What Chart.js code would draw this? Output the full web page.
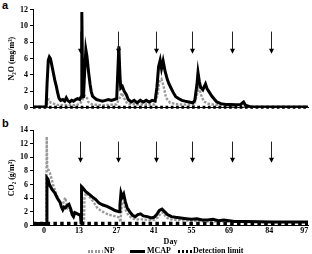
<!DOCTYPE html>
<html>
<head>
<meta charset="utf-8">
<script src="https://cdn.jsdelivr.net/npm/chart.js@4.4.1/dist/chart.umd.min.js"></script>
<style>
body { margin: 0; width: 312px; height: 254px; overflow: hidden; background: #fff; position: relative; font-family: "Liberation Serif", serif; }
canvas { position: absolute; left: 0; }
#n2o_chart { top: 0; }
#co2_chart { top: 118px; }
.panel { position: absolute; left: 2px; font-family: "Liberation Sans", sans-serif; font-weight: bold; font-size: 11px; line-height: 11px; }
.item { position: absolute; top: 246px; font-weight: bold; font-size: 8px; line-height: 10px; white-space: nowrap; }
.sample { position: absolute; top: 4px; height: 3px; width: 15px; }
</style>
</head>
<body>
<div class="panel" style="top:0px">a</div>
<div class="panel" style="top:118px">b</div>
<canvas id="n2o_chart" width="312" height="118"></canvas>
<canvas id="co2_chart" width="312" height="136"></canvas>
<div class="item" style="left:88px"><span class="sample" style="left:0;background:repeating-linear-gradient(90deg,#999 0 2px,transparent 2px 3.5px)"></span><span style="margin-left:16px">NP</span></div>
<div class="item" style="left:130px"><span class="sample" style="left:0;background:#000"></span><span style="margin-left:17px">MCAP</span></div>
<div class="item" style="left:178px"><span class="sample" style="left:0;width:14px;background:repeating-linear-gradient(90deg,#000 0 2.5px,transparent 2.5px 4px)"></span><span style="margin-left:15px">Detection limit</span></div>
<script>
// x range of both panels (days)
let day_min = -4.1
let day_max = 98.4
let day_ticks = [0, 13, 27, 41, 55, 69, 84, 97]
let arrow_days = [13.6, 27.7, 41.8, 55.1, 69.9, 84.7]

// N2O (mg/m3)
let n2o_mcap_days = [-4, 0.8, 1.15, 1.6, 2.0, 2.4, 2.9, 3.4, 4.0, 4.6, 5.1, 5.6, 6.2, 7.0, 7.7, 8.3, 8.8, 9.6, 10.3, 11.0, 11.8, 12.5, 13.3, 13.8, 14.1, 14.4, 14.7, 15.1, 15.6, 16.0, 16.7, 17.2, 17.6, 18.1, 18.8, 19.6, 20.7, 21.8, 22.9, 24.0, 25.1, 26.2, 27.1, 27.9, 28.3, 28.6, 29.2, 29.9, 30.7, 31.4, 32.5, 33.6, 34.7, 35.9, 37.0, 38.1, 39.2, 40.3, 41.4, 42.1, 42.7, 43.3, 43.8, 44.4, 45.1, 46.0, 46.6, 47.2, 48.1, 49.1, 50.3, 51.4, 52.5, 54.0, 55.5, 56.2, 57.0, 57.4, 57.9, 58.4, 59.2, 60.2, 60.8, 61.6, 62.6, 63.6, 64.4, 65.9, 67.7, 69.6, 71.4, 73.3, 74.4, 75.1, 77.0, 98.4]
let n2o_mcap = [0.1, 0.1, 3.0, 5.8, 6.2, 6.0, 5.2, 4.4, 3.4, 2.6, 1.8, 1.15, 0.9, 1.0, 0.8, 1.2, 0.9, 0.7, 0.9, 0.8, 1.0, 1.1, 1.0, 1.3, 11.7, 3.0, 1.2, 4.0, 7.1, 6.3, 4.1, 2.8, 2.0, 1.4, 1.2, 1.0, 0.9, 0.8, 0.9, 1.0, 0.9, 1.0, 1.1, 7.5, 4.0, 2.4, 2.6, 2.0, 1.6, 1.0, 0.7, 0.9, 0.6, 0.9, 0.7, 0.9, 0.7, 0.9, 0.8, 2.5, 5.0, 5.8, 4.8, 5.7, 4.5, 3.4, 2.9, 2.5, 1.9, 1.35, 1.1, 0.9, 0.8, 0.7, 0.6, 0.9, 2.8, 4.3, 3.2, 2.5, 2.2, 2.9, 2.3, 1.9, 1.4, 1.0, 0.7, 0.5, 0.4, 0.4, 0.35, 0.4, 0.7, 0.3, 0.1, 0.1]
let n2o_np_days = [-4, 1.0, 1.3, 1.8, 2.5, 3.5, 5.0, 8.0, 12.0, 13.5, 14.4, 15.2, 15.8, 16.5, 18.0, 22.0, 27.0, 28.2, 29.0, 29.8, 31.0, 35.0, 41.0, 42.3, 43.0, 43.8, 44.6, 45.5, 47.0, 50.0, 56.0, 57.2, 57.8, 58.5, 59.5, 61.0, 65.0, 70.0, 75.0, 80.0, 98.4]
let n2o_np = [0.05, 0.05, 0.9, 1.0, 0.6, 0.5, 0.35, 0.3, 0.3, 0.5, 1.0, 1.5, 1.4, 0.7, 0.4, 0.3, 0.4, 1.2, 1.8, 1.2, 0.5, 0.4, 0.4, 1.5, 3.2, 3.5, 2.6, 1.2, 0.6, 0.4, 0.35, 1.8, 2.5, 1.6, 0.8, 0.5, 0.3, 0.2, 0.15, 0.05, 0.05]
let n2o_limit = 0.05

// CO2 (g/m3)
let co2_mcap_days = [-4, 0.9, 1.1, 1.5, 2.0, 3.0, 4.0, 5.0, 6.0, 6.5, 7.0, 7.5, 8.0, 8.5, 9.3, 10.0, 10.5, 11.0, 11.5, 12.5, 13.6, 13.8, 14.0, 14.5, 15.5, 16.8, 18.0, 19.3, 20.5, 22.0, 23.5, 25.0, 26.5, 28.0, 28.3, 28.7, 29.2, 29.7, 30.3, 31.0, 32.0, 33.0, 34.0, 35.0, 36.0, 37.0, 38.5, 40.0, 41.0, 42.0, 43.0, 44.0, 45.0, 46.0, 47.5, 49.0, 51.0, 53.0, 55.0, 57.0, 59.0, 61.0, 63.0, 65.0, 67.0, 69.0, 71.0, 75.0, 80.0, 85.0, 90.0, 98.4]
let co2_mcap = [0.3, 0.3, 7.0, 6.8, 6.0, 5.3, 4.8, 4.0, 3.4, 2.7, 2.3, 2.7, 2.6, 2.9, 3.1, 2.4, 1.6, 1.3, 1.9, 1.7, 1.5, 0.4, 5.7, 5.5, 5.0, 4.6, 4.2, 3.8, 3.3, 3.0, 2.8, 2.5, 2.2, 2.0, 3.0, 4.8, 4.2, 4.6, 3.5, 2.6, 2.0, 1.5, 1.3, 1.6, 1.7, 1.4, 1.3, 1.1, 1.2, 1.6, 2.2, 2.4, 2.0, 1.6, 1.3, 1.2, 1.1, 1.0, 0.9, 1.0, 0.8, 0.8, 0.9, 0.7, 0.8, 0.7, 0.6, 0.6, 0.55, 0.5, 0.5, 0.5]
let co2_np_days = [-4, 0.9, 1.0, 1.2, 1.6, 2.2, 3.4, 4.6, 5.8, 7.0, 7.9, 8.9, 10.2, 12.0, 13.3, 13.9, 14.1, 14.9, 15.1, 15.8, 17.0, 18.5, 20.0, 22.0, 24.0, 26.0, 28.0, 28.5, 29.0, 29.6, 30.5, 31.5, 33.0, 35.0, 37.0, 39.0, 41.0, 42.5, 43.5, 44.5, 45.5, 47.0, 50.0, 55.0, 60.0, 70.0, 80.0, 98.4]
let co2_np = [0.3, 0.3, 13.0, 8.5, 8.2, 7.7, 6.0, 4.6, 3.4, 3.1, 4.1, 2.4, 2.05, 1.7, 1.6, 1.6, 0.3, 0.3, 4.2, 4.8, 4.2, 3.4, 2.5, 2.0, 1.6, 1.4, 1.2, 0.5, 3.0, 3.5, 2.2, 1.5, 1.0, 0.9, 0.9, 0.8, 0.8, 1.2, 1.8, 1.9, 1.2, 0.9, 0.8, 0.7, 0.6, 0.55, 0.5, 0.5]
let co2_limit = 0.3

function points(days, values) {
    return days.map((d, i) => ({x: d, y: values[i]}))
}

// downward arrows marking the applications
let arrowPlugin = {
    id: "arrows",
    afterDatasetsDraw(chart, args, opts) {
        let ctx = chart.ctx
        let x = chart.scales.x
        let y = chart.scales.y
        ctx.save()
        ctx.strokeStyle = "#222"
        ctx.fillStyle = "#000"
        ctx.lineWidth = 1
        for (let i = 0; i < opts.days.length; i++) {
            let px = Math.round(x.getPixelForValue(opts.days[i])) + 0.5
            let y1 = y.getPixelForValue(opts.top)
            let y2 = y.getPixelForValue(opts.tip)
            ctx.beginPath()
            ctx.moveTo(px, y1)
            ctx.lineTo(px, y2 - 4)
            ctx.stroke()
            ctx.beginPath()
            ctx.moveTo(px - 2.5, y2 - 5)
            ctx.lineTo(px + 2.5, y2 - 5)
            ctx.lineTo(px, y2)
            ctx.closePath()
            ctx.fill()
        }
        ctx.restore()
    }
}

Chart.defaults.font.family = '"Liberation Serif", serif'
Chart.defaults.font.weight = "bold"
Chart.defaults.font.size = 8
Chart.defaults.color = "#000"

function makeChart(id, cfg) {
    return new Chart(document.getElementById(id).getContext("2d"), {
        type: "line",
        data: {
            datasets: [{
                label: "Detection limit",
                data: points([day_min, day_max], [cfg.limit, cfg.limit]),
                borderColor: "#000",
                borderWidth: cfg.limitWidth,
                borderDash: cfg.limitDash,
                pointRadius: 0,
                clip: false
            }, {
                label: "MCAP",
                data: cfg.mcap,
                borderColor: "#000",
                borderWidth: 3,
                pointRadius: 0
            }, {
                label: "NP",
                data: cfg.np,
                borderColor: "#9a9a9a",
                borderWidth: 2.4,
                borderDash: [2.5, 1.5],
                pointRadius: 0
            }]
        },
        options: {
            responsive: false,
            animation: false,
            layout: { padding: cfg.padding },
            plugins: {
                legend: { display: false },
                tooltip: { enabled: false },
                arrows: { days: arrow_days, top: cfg.arrowTop, tip: cfg.arrowTip }
            },
            scales: {
                x: {
                    type: "linear",
                    min: day_min,
                    max: day_max,
                    afterBuildTicks: scale => { scale.ticks = day_ticks.map(v => ({value: v})) },
                    grid: { display: false, drawTicks: false },
                    border: { display: true, color: "#000", width: 1 },
                    ticks: { display: cfg.showX, padding: 1 },
                    title: { display: cfg.showX, text: "Day", padding: {top: 0, bottom: 0}, font: {size: 8, weight: "bold"} }
                },
                y: {
                    min: 0,
                    max: cfg.yMax,
                    afterFit: scale => { scale.width = 33 },
                    ticks: { stepSize: 2, padding: 2 },
                    grid: { drawOnChartArea: false, tickLength: 3, color: "#000" },
                    border: { display: true, color: "#000", width: 1 },
                    title: { display: true, text: cfg.title, padding: {top: 7.5, bottom: 0}, font: {size: 8, weight: "bold"} }
                }
            }
        },
        plugins: [arrowPlugin]
    })
}

makeChart("n2o_chart", {
    mcap: points(n2o_mcap_days, n2o_mcap),
    np: points(n2o_np_days, n2o_np),
    limit: n2o_limit,
    limitWidth: 3,
    limitDash: [2.7, 2.6],
    yMax: 12,
    title: "N\u2082O (mg/m\u00b3)",
    arrowTop: 9.3,
    arrowTip: 6.6,
    showX: false,
    padding: {top: 9.5, right: 4, bottom: 10.3, left: 0}
})

makeChart("co2_chart", {
    mcap: points(co2_mcap_days, co2_mcap),
    np: points(co2_np_days, co2_np),
    limit: co2_limit,
    limitWidth: 3.5,
    limitDash: [3.5, 3.3],
    yMax: 14,
    title: "CO\u2082 (g/m\u00b3)",
    arrowTop: 12.3,
    arrowTip: 9.2,
    showX: true,
    padding: {top: 12, right: 4, bottom: 7.3, left: 0}
})
</script>
</body>
</html>
